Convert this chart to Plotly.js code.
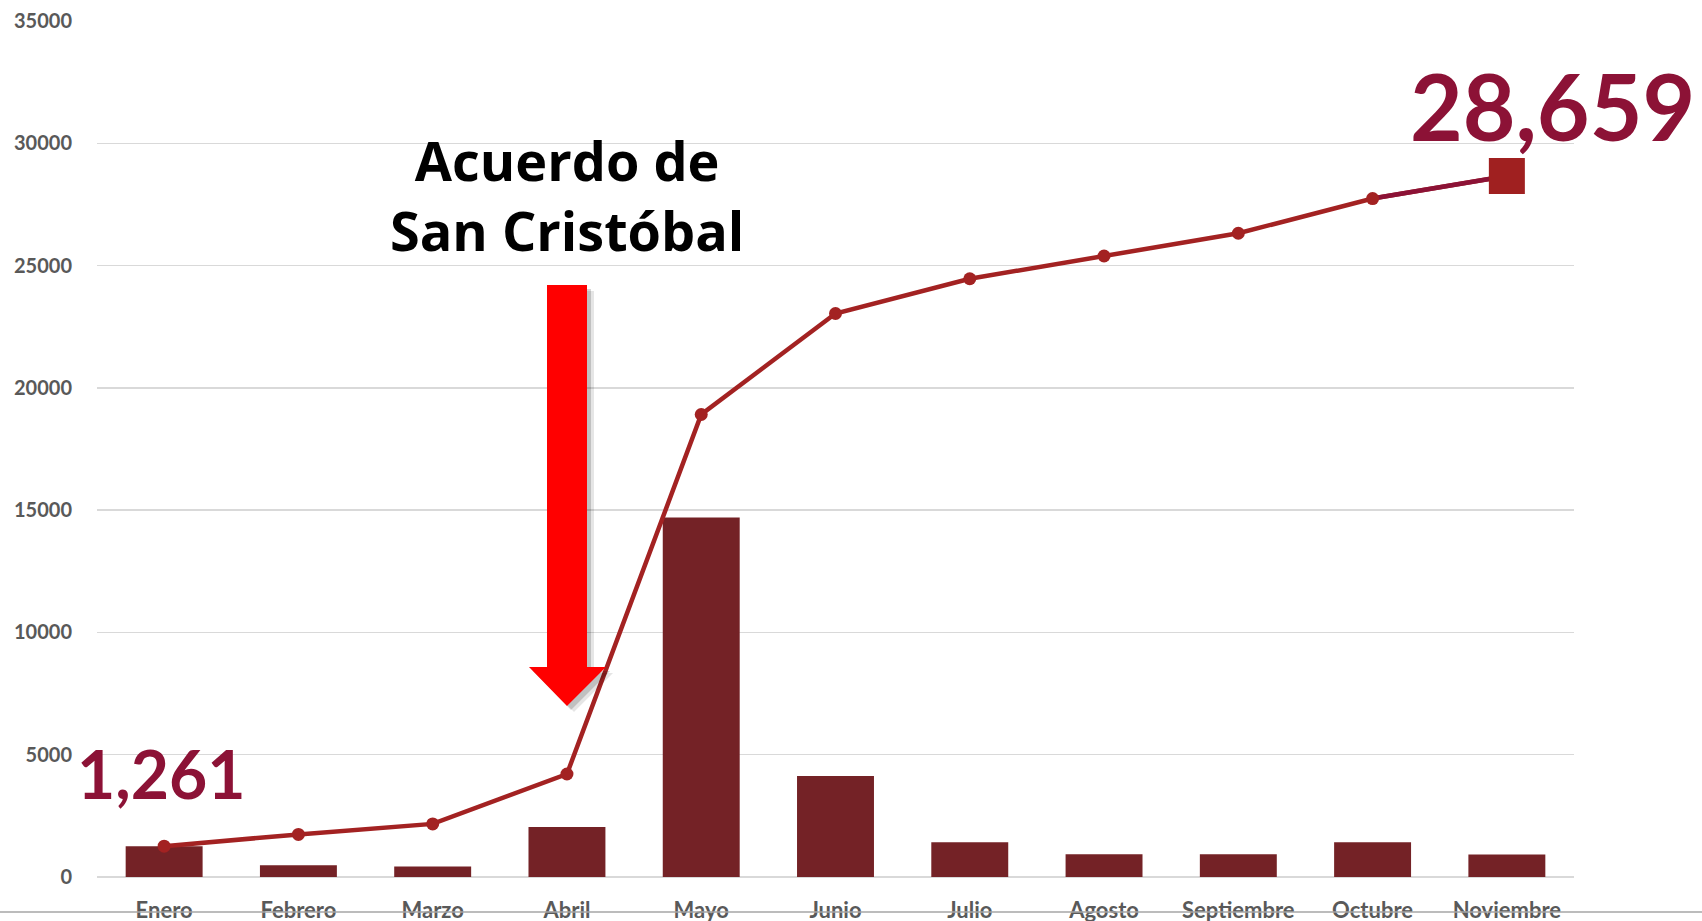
<!DOCTYPE html>
<html>
<head>
<meta charset="utf-8">
<script src="https://cdn.plot.ly/plotly-3.0.1.min.js"></script>
<style>
  html, body { margin: 0; padding: 0; background: #ffffff; }
  #chart { width: 1702px; height: 921px; }
</style>
</head>
<body>
<div id="chart"></div>
<script>
// ---- data ----
const months = ['Enero', 'Febrero', 'Marzo', 'Abril', 'Mayo', 'Junio', 'Julio', 'Agosto', 'Septiembre', 'Octubre', 'Noviembre'];
const monthlyValues = [1261, 480, 430, 2040, 14700, 4130, 1420, 930, 930, 1420, 918];
const cumulativeValues = [1261, 1741, 2171, 4211, 18911, 23041, 24461, 25391, 26321, 27741, 28659];
const yTickValues = [0, 5000, 10000, 15000, 20000, 25000, 30000, 35000];
const firstLabel = '1,261';
const lastLabel = '28,659';
const eventLabel = 'Acuerdo de<br>San Cristóbal';

// ---- geometry helpers (decoration only) ----
const W = 1702, H = 921;
const M = { l: 97, r: 128, t: 21, b: 44 };
const PW = W - M.l - M.r, PH = H - M.t - M.b;
const px = x => (x - M.l) / PW;          // pixel x -> paper x
const py = y => (H - M.b - y) / PH;       // pixel y -> paper y

function arrowPath(dx, dy) {
  const pts = [
    [547, 285], [587, 285], [587, 667], [606, 667],
    [567, 706], [529, 667], [547, 667]
  ].map(p => [px(p[0] + dx), py(p[1] + dy)]);
  return 'M ' + pts.map(p => p[0].toFixed(5) + ',' + p[1].toFixed(5)).join(' L ') + ' Z';
}

const n = months.length;
const markerSymbols = months.map((m, i) => i === n - 1 ? 'square' : 'circle');
const markerSizes = months.map((m, i) => i === n - 1 ? 36 : 13);
const markerColors = months.map((m, i) => i === n - 1 ? '#A02020' : '#A32222');

const traces = [
  {
    type: 'bar',
    x: months,
    y: monthlyValues,
    marker: { color: '#742226' },
    hoverinfo: 'x+y'
  },
  {
    type: 'scatter',
    mode: 'lines',
    x: months,
    y: cumulativeValues,
    line: { color: '#A32222', width: 4.5 },
    hoverinfo: 'skip'
  },
  {
    type: 'scatter',
    mode: 'lines',
    x: months.slice(n - 2),
    y: cumulativeValues.slice(n - 2),
    line: { color: '#8C1236', width: 4.5 },
    hoverinfo: 'skip'
  },
  {
    type: 'scatter',
    mode: 'markers',
    x: months,
    y: cumulativeValues,
    opacity: 1,
    marker: { symbol: markerSymbols, size: markerSizes, color: markerColors, opacity: 1, line: { width: 0 } },
    cliponaxis: false,
    hoverinfo: 'x+y'
  }
];

const layout = {
  width: W,
  height: H,
  margin: M,
  paper_bgcolor: '#ffffff',
  plot_bgcolor: '#ffffff',
  showlegend: false,
  bargap: 0.427,
  xaxis: {
    type: 'category',
    range: [-0.5, n - 0.5],
    showgrid: false,
    zeroline: false,
    showline: false,
    ticks: 'outside',
    ticklen: 14,
    tickcolor: 'rgba(0,0,0,0)',
    tickfont: { family: 'Lato, "Open Sans", sans-serif', size: 22, color: '#595959', weight: 'bold' }
  },
  yaxis: {
    range: [0, 35000],
    tickvals: yTickValues,
    tickformat: 'd',
    showgrid: true,
    gridcolor: '#D9D9D9',
    gridwidth: 1.5,
    zeroline: true,
    zerolinecolor: '#D9D9D9',
    zerolinewidth: 2,
    showline: false,
    ticks: 'outside',
    ticklen: 20,
    tickcolor: 'rgba(0,0,0,0)',
    tickfont: { family: 'Lato, "Open Sans", sans-serif', size: 20, color: '#595959', weight: 'bold' }
  },
  shapes: [
    {
      type: 'line', xref: 'paper', yref: 'paper',
      x0: px(0), x1: px(W), y0: py(912), y1: py(912),
      line: { color: '#A6A6A6', width: 1.5 }
    },
    {
      type: 'path', xref: 'paper', yref: 'paper', path: arrowPath(7, 6),
      fillcolor: 'rgba(0,0,0,0.10)', line: { width: 0 }
    },
    {
      type: 'path', xref: 'paper', yref: 'paper', path: arrowPath(4, 4),
      fillcolor: 'rgba(0,0,0,0.16)', line: { width: 0 }
    },
    {
      type: 'path', xref: 'paper', yref: 'paper', path: arrowPath(0, 0),
      fillcolor: '#FF0000', line: { width: 0 }
    }
  ],
  annotations: [
    {
      xref: 'x', yref: 'y', x: months[3], y: 27900,
      text: eventLabel, showarrow: false,
      xanchor: 'center', yanchor: 'middle',
      font: { family: '"Open Sans", "DejaVu Sans", sans-serif', size: 54, color: '#000000', weight: 'bold' }
    },
    {
      xref: 'x', yref: 'y', x: months[0], y: 4250, xshift: -3,
      text: firstLabel, showarrow: false,
      xanchor: 'center', yanchor: 'middle',
      font: { family: 'Lato, "Open Sans", sans-serif', size: 66, color: '#8C1236', weight: 'bold' }
    },
    {
      xref: 'x', yref: 'y', x: months[n - 1], y: 31565, xshift: 46,
      text: lastLabel, showarrow: false,
      xanchor: 'center', yanchor: 'middle',
      font: { family: 'Lato, "Open Sans", sans-serif', size: 91, color: '#8C1236', weight: 'bold' }
    }
  ]
};

Plotly.newPlot('chart', traces, layout, { displayModeBar: false, staticPlot: true });
</script>
</body>
</html>
